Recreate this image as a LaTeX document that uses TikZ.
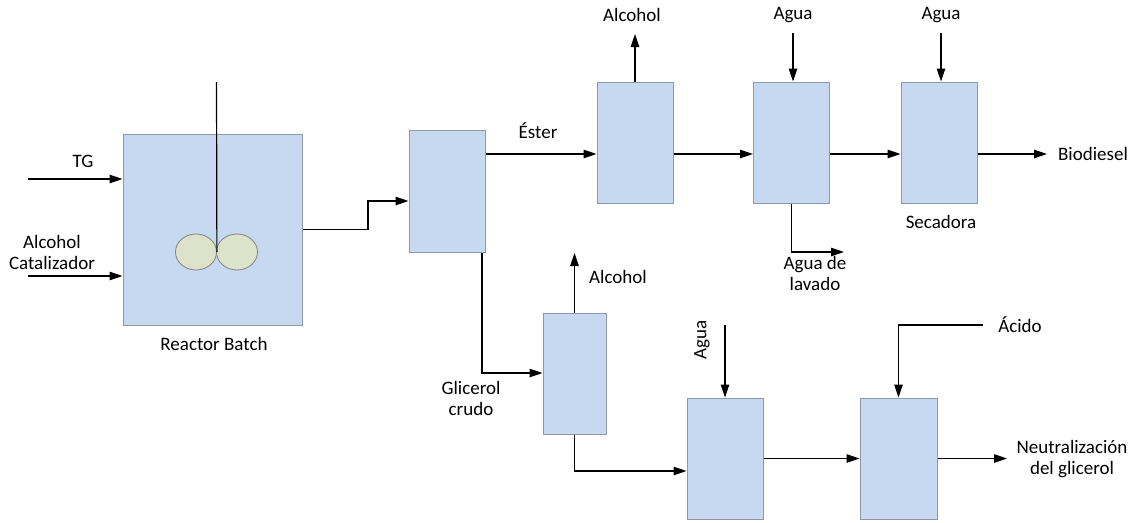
\documentclass[tikz,border=0pt]{standalone}
\usepackage{fontspec}
\setmainfont{Carlito}
\usepackage{tikz}
\usetikzlibrary{arrows.meta,positioning,shapes.geometric}
\definecolor{boxblue}{HTML}{C6D9F0}
\definecolor{boxline}{HTML}{8E99A8}
\definecolor{bladefill}{HTML}{DDE3CB}

\begin{document}
\begin{tikzpicture}[
    x=1pt, y=1pt,
    unit/.style={rectangle, draw=boxline, fill=boxblue, line width=1pt, inner sep=0pt, minimum width=76pt, minimum height=121pt},
    blade/.style={ellipse, draw=gray, fill=bladefill, line width=0.8pt, inner sep=0pt, minimum width=41pt, minimum height=36pt},
    arrow/.style={-{Triangle[length=13pt,width=8.5pt]}, line width=1.2pt},
    tag/.style={font=\fontsize{19}{21}\selectfont, align=center, inner sep=0pt}
]
\useasboundingbox (0,0) rectangle (1137,-522);

% Reactor
\node[unit, minimum width=179pt, minimum height=191pt] (reactor) at (212.5,-229.5) {};
\node[blade] (blade1) at (196,-252) {};
\node[blade] (blade2) at (237,-252) {};
\coordinate (shaft) at (216.5,-82);
\draw[line width=1.2pt] (shaft) -- (blade1.east);

% Process units
\node[unit, minimum height=122pt] (sep1) at (447,-191) {};
\node[unit] (evap1) at (635,-142.5) {};
\node[unit] (wash) at (791.5,-142.5) {};
\node[unit] (dryer) at (939,-142.5) {};
\node[unit, minimum width=63pt] (evap2) at (574.5,-373.5) {};
\node[unit] (mix) at (725,-458.5) {};
\node[unit, minimum width=77pt] (neutral) at (898.5,-458.5) {};

% Labels
\node[tag] (tglbl) at (83,-161) {TG};
\node[tag] (alccat) at (52,-252) {Alcohol\\Catalizador};
\node[tag] (reactlbl) at (214,-344) {Reactor Batch};
\node[tag] (esterlbl) at (538,-131) {Éster};
\node[tag] (alc1) at (632,-15) {Alcohol};
\node[tag] (agua1) at (793,-15) {Agua};
\node[tag] (agua2) at (941,-15) {Agua};
\node[tag] (lavlbl) at (815,-273) {Agua de\\lavado};
\node[tag] (drylbl) at (941,-222) {Secadora};
\node[tag] (biolbl) at (1093,-154) {Biodiesel};
\node[tag] (alc2) at (618,-277) {Alcohol};
\node[tag] (glylbl) at (471,-398) {Glicerol\\crudo};
\node[tag, rotate=90] (agua3) at (702,-340) {Agua};
\node[tag] (acidlbl) at (1020,-325) {Ácido};
\node[tag] (neulbl) at (1072,-459) {Neutralización\\del glicerol};

% Stream points
\coordinate (tgin) at (28,-179);
\coordinate (catin) at (28,-276);
\coordinate (feed) at (368,-201);
\coordinate (esterline) at (0,-154);
\coordinate (alcout1) at (635,-34);
\coordinate (aguain1) at (793,-33);
\coordinate (lavout) at (844,-252);
\coordinate (aguain2) at (941,-33);
\coordinate (bioout) at (1047,-154);
\coordinate (glyline) at (482,-373);
\coordinate (alcout2) at (574.5,-253);
\coordinate (crudeline) at (0,-471);
\coordinate (aguain3) at (725,-325);
\coordinate (acidin) at (983,-325);
\coordinate (neuout) at (1007,-458.5);

% Connections
\draw[arrow] (tgin) -- (tgin -| reactor.west);
\draw[arrow] (catin) -- (catin -| reactor.west);
\draw[arrow] (reactor.east) -| (feed) -- (feed -| sep1.west);
\draw[arrow] (sep1.east |- esterline) -- (evap1.west |- esterline);
\draw[arrow] (evap1.east |- esterline) -- (wash.west |- esterline);
\draw[arrow] (wash.east |- esterline) -- (dryer.west |- esterline);
\draw[arrow] (dryer.east |- esterline) -- (bioout);
\draw[arrow] (evap1.north) -- (alcout1);
\draw[arrow] (aguain1) -- (aguain1 |- wash.north);
\draw[arrow] (wash.south) |- (lavout);
\draw[arrow] (aguain2) -- (aguain2 |- dryer.north);
\draw[arrow] (glyline |- sep1.south) |- (evap2.west |- glyline);
\draw[arrow] (evap2.north) -- (alcout2);
\draw[arrow] (evap2.south) |- (mix.west |- crudeline);
\draw[arrow] (aguain3) -- (mix.north);
\draw[arrow] (mix.east) -- (neutral.west);
\draw[arrow] (acidin) -| (neutral.north);
\draw[arrow] (neutral.east) -- (neuout);

\end{tikzpicture}
\end{document}
